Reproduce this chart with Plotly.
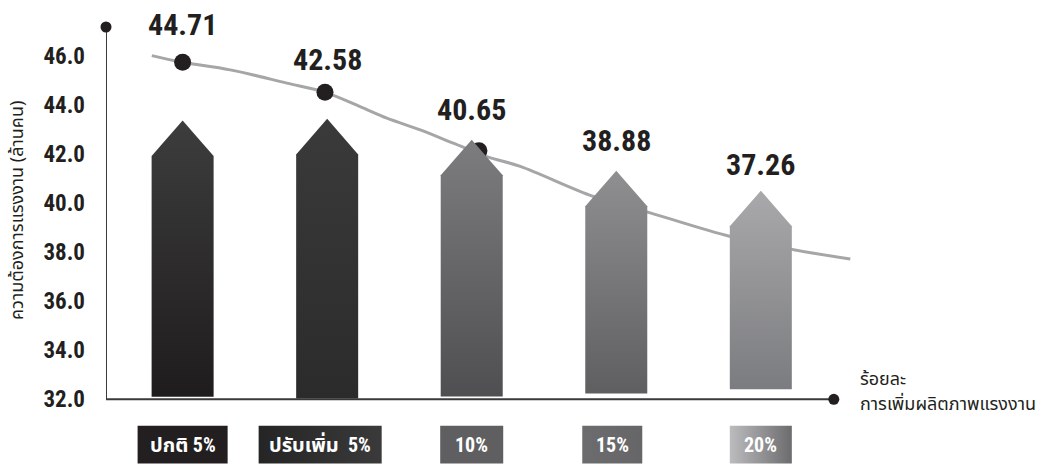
import plotly.graph_objects as go

# ---------------- data ----------------
categories = ["ปกติ 5%", "ปรับเพิ่ม  5%", "10%", "15%", "20%"]
value_labels = [44.71, 42.58, 40.65, 38.88, 37.26]
label_pos = [47.32, 45.89, 43.85, 42.56, 41.57]        # where each number sits on the y scale
arrow_top = [43.38, 43.45, 42.60, 41.33, 40.52]        # tip of each arrow
arrow_base = [32.11, 32.03, 32.12, 32.24, 32.41]       # foot of each arrow
marker_x = [0.0, 0.985, 2.05]
marker_values = [45.76, 44.54, 42.15]                  # dots on the trend curve
trend_x = [-0.213, 0.0, 0.329, 0.721, 0.981, 1.228, 1.413, 1.644, 1.872,
           2.105, 2.336, 2.843, 3.235, 3.789, 4.227, 4.619]
trend_y = [46.03, 45.76, 45.45, 44.91, 44.54, 43.95, 43.48, 43.00, 42.46,
           41.91, 41.51, 40.28, 39.61, 38.65, 38.11, 37.73]
y_ticks = [32, 34, 36, 38, 40, 42, 44, 46]
y_title = "ความต้องการแรงงาน (ล้านคน)"
x_title_lines = ["ร้อยละ", "การเพิ่มผลิตภาพแรงงาน"]

# ---------------- styles ----------------
arrow_colors = [("#1f1c1d", "#3d3d3d"), ("#2b2b2b", "#3a3a3a"),
                ("#4f4f51", "#7d7d7f"), ("#5f5f61", "#8f8f91"),
                ("#7b7c7f", "#a9a9ab")]
box_colors = [("#231f20", "#231f20"), ("#252525", "#3a3a3a"),
              ("#5f5f61", "#5f5f61"), ("#6c6c6e", "#666668"),
              ("#bcbcbe", "#6c6c6e")]
box_widths_px = [90, 123, 63, 60, 62]
box_shift_px = [0, -7, 0, -4, 0]
PX_X = 144.5            # pixels per category step
HALF_W = 0.2145
HEAD = 1.45
X_MIN, X_MAX, X_AXIS_END = -0.53, 4.70, 4.505
Y_MIN, Y_MAX, Y_LOW = 32, 47.2, 29.36
BOX_TOP, BOX_BOT, BOX_MID = 30.92, 29.38, 30.15
NUM_FONT = "Roboto Condensed, Liberation Sans Narrow, DejaVu Sans Condensed, Liberation Sans, sans-serif"
THAI_FONT = "Noto Sans Thai, Noto Sans, DejaVu Sans, sans-serif"
INK = "#231f20"

fig = go.Figure()

# trend curve (behind the arrows)
fig.add_trace(go.Scatter(x=trend_x, y=trend_y, mode="lines", line_shape="spline",
                         line=dict(color="#a6a6a8", width=3), hoverinfo="skip",
                         showlegend=False))
fig.add_trace(go.Scatter(x=marker_x, y=marker_values,
                         mode="markers", marker=dict(color=INK, size=17),
                         hoverinfo="skip", showlegend=False))

# arrows
for i, (top, base) in enumerate(zip(arrow_top, arrow_base)):
    shoulder = top - HEAD
    xs = [i - HALF_W, i - HALF_W, i, i + HALF_W, i + HALF_W, i - HALF_W]
    ys = [base, shoulder, top, shoulder, base, base]
    lo, hi = arrow_colors[i]
    fig.add_trace(go.Scatter(x=xs, y=ys, mode="lines", fill="toself",
                             line=dict(width=0, color=hi),
                             fillgradient=dict(type="vertical",
                                               colorscale=[[0, lo], [1, hi]]),
                             hoverinfo="skip", showlegend=False))

# category boxes
for i, c in enumerate(categories):
    cx = i + box_shift_px[i] / PX_X
    hw = box_widths_px[i] / 2 / PX_X
    left, right = box_colors[i]
    fig.add_trace(go.Scatter(x=[cx - hw, cx + hw, cx + hw, cx - hw, cx - hw],
                             y=[BOX_BOT, BOX_BOT, BOX_TOP, BOX_TOP, BOX_BOT],
                             mode="lines", fill="toself", line=dict(width=0, color=right),
                             fillgradient=dict(type="horizontal",
                                               colorscale=[[0, left], [1, right]]),
                             hoverinfo="skip", showlegend=False))

# axis lines with end dots
fig.add_trace(go.Scatter(x=[X_MIN, X_MIN, X_AXIS_END], y=[Y_MAX, Y_MIN, Y_MIN],
                         mode="lines", line=dict(color="#3a3a3a", width=2),
                         hoverinfo="skip", showlegend=False, cliponaxis=False))
fig.add_trace(go.Scatter(x=[X_MIN, X_AXIS_END], y=[Y_MAX, Y_MIN], mode="markers",
                         marker=dict(color=INK, size=11), cliponaxis=False,
                         hoverinfo="skip", showlegend=False))

span = Y_MAX - Y_LOW
annotations = []
for i, (v, p) in enumerate(zip(value_labels, label_pos)):
    annotations.append(dict(x=i, y=(p - Y_LOW) / span, xref="x", yref="paper",
                            text=f"{v:.2f}", showarrow=False, yanchor="middle",
                            font=dict(family=NUM_FONT, size=30, color=INK,
                                      weight="bold")))
for i, c in enumerate(categories):
    annotations.append(dict(x=i + box_shift_px[i] / PX_X, y=BOX_MID, xref="x", yref="y",
                            text=c, showarrow=False, yanchor="middle",
                            font=dict(family=NUM_FONT + ", " + THAI_FONT, size=20,
                                      color="white", weight="bold")))
annotations.append(dict(x=-0.1164, y=(39.69 - Y_LOW) / span, xref="paper", yref="paper",
                        text=y_title, textangle=-90, showarrow=False,
                        xanchor="center", yanchor="middle",
                        font=dict(family=THAI_FONT, size=18, color=INK)))
for k, (line, yy) in enumerate(zip(x_title_lines, [32.82, 31.80])):
    annotations.append(dict(x=0.995, y=(yy - Y_LOW) / span, xref="paper", yref="paper",
                            text=line, showarrow=False,
                            xanchor="left", yanchor="middle",
                            font=dict(family=THAI_FONT, size=18, color=INK)))

fig.update_layout(
    width=1053, height=464,
    margin=dict(l=106, r=191, t=27, b=0),
    plot_bgcolor="white", paper_bgcolor="white",
    xaxis=dict(range=[X_MIN, X_MAX], showgrid=False, zeroline=False,
               showline=False, showticklabels=False, fixedrange=True),
    yaxis=dict(range=[Y_LOW, Y_MAX], tickvals=y_ticks,
               ticktext=[f"{t:.1f}" for t in y_ticks],
               showgrid=False, zeroline=False, showline=False,
               ticks="", ticklabelstandoff=20,
               tickfont=dict(family=NUM_FONT, size=23, color=INK, weight="bold")),
    annotations=annotations,
    showlegend=False,
)

fig.write_html("out.html")
